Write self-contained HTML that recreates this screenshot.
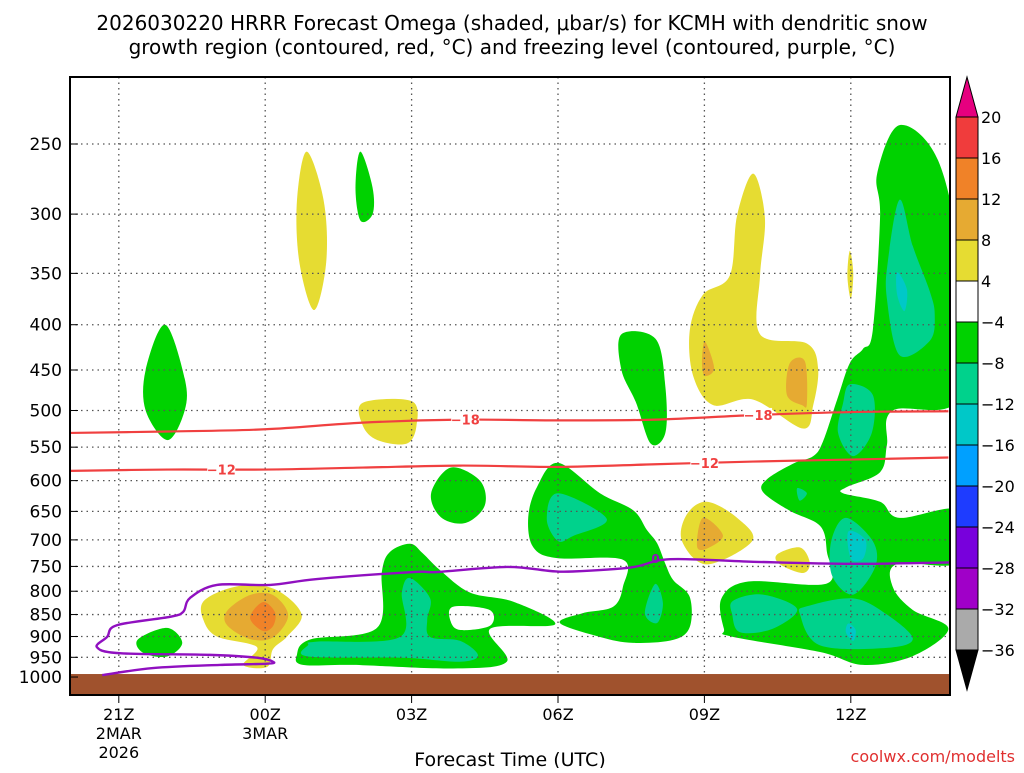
<!DOCTYPE html>
<html><head><meta charset="utf-8"><style>
body{margin:0;background:#fff;}
svg text{font-family:"DejaVu Sans","Liberation Sans",sans-serif;}
</style></head><body>
<svg id="chart" width="1024" height="768" viewBox="0 0 1024 768" xmlns="http://www.w3.org/2000/svg">
<text x="512" y="30" text-anchor="middle" font-size="20" fill="#000">2026030220 HRRR Forecast Omega (shaded, μbar/s) for KCMH with dendritic snow</text>
<text x="512" y="54" text-anchor="middle" font-size="20" fill="#000">growth region (contoured, red, °C) and freezing level (contoured, purple, °C)</text>
<g id="plot"></g>
<g id="cbar"></g>
<text x="510" y="766" text-anchor="middle" font-size="19" fill="#000">Forecast Time (UTC)</text>
<text x="1015" y="762" text-anchor="end" font-size="16" fill="#e03030">coolwx.com/modelts</text>
</svg>
<script>
const pTicks=[250,300,350,400,450,500,550,600,650,700,750,800,850,900,950,1000];
const tTickHours=[1,4,7,10,13,16];
const tTickLabels=[["21Z","2MAR","2026"],["00Z","3MAR"],["03Z"],["06Z"],["09Z"],["12Z"]];
const cbLevels=[20,16,12,8,4,-4,-8,-12,-16,-20,-24,-28,-32,-36];
const cbColors=["#f03c3c","#f08228","#e6aa32","#e6dc32","#ffffff","#00d200","#00d28c","#00c8c8","#00a0ff","#1e3cff","#7800dc","#a000c8","#aaaaaa"];
const GREEN="#00d200",TEAL="#00d28c",CYAN="#00c8c8",BLUE="#00a0ff",YEL="#e6dc32",ORG="#e6aa32",ORG2="#f08228",WHITE="#ffffff";
// shaded omega regions: color per region, outline as [hour,pressure] pairs
const blobColors=[GREEN,YEL,GREEN,YEL,GREEN,
GREEN,WHITE,TEAL,
GREEN,TEAL,TEAL,GREEN,
YEL,ORG,ORG,YEL,ORG,YEL,YEL,
GREEN,TEAL,CYAN,TEAL,TEAL,CYAN,TEAL,TEAL,CYAN,TEAL,
YEL,ORG,ORG2,GREEN];
const blobShapes=[
[[1.95,400],[2.35,460],[2.35,500],[2.0,540],[1.55,500],[1.55,450]],
[[4.85,255],[5.2,290],[5.25,340],[5.0,385],[4.7,340],[4.65,290]],
[[5.95,255],[6.2,280],[6.2,300],[5.95,305],[5.85,280]],
[[6.0,490],[7.0,488],[7.1,520],[6.9,545],[6.3,540],[6.0,520]],
[[7.8,580],[8.4,600],[8.5,640],[8.1,670],[7.6,660],[7.4,620]],
[[4.65,944],[4.92,907],[6.29,880],[6.39,761],[6.56,722],[6.97,707],[7.23,725],[7.58,757],[8.2,803],[9.08,822],[9.94,872],[8.61,882],[8.95,961],[7.85,978],[5.8,969],[4.77,969]],
[[7.85,833],[8.6,840],[8.61,875],[8.0,885],[7.8,865]],
[[4.88,920],[5.06,912],[6.76,901],[6.8,803],[6.97,773],[7.38,815],[7.32,861],[7.38,901],[7.99,910],[8.36,945],[7.99,961],[6.82,951],[4.88,948]],
[[10.0,573],[10.86,620],[11.54,648],[11.82,682],[12.03,706],[12.2,745],[12.36,777],[12.7,812],[12.7,878],[12.36,908],[11.54,915],[10.86,901],[10.04,869],[10.51,847],[11.13,833],[11.33,791],[11.33,737],[9.98,734],[9.49,713],[9.39,660],[9.57,610]],
[[10.0,620],[11.0,663],[10.31,693],[10.0,702],[9.77,663]],
[[11.99,785],[12.15,825],[12.03,869],[11.78,847]],
[[11.3,410],[12.0,415],[12.2,470],[12.2,530],[11.9,545],[11.6,490],[11.3,450]],
[[14.0,270],[14.24,303],[14.14,352],[14.14,410],[15.1,420],[15.33,448],[15.23,493],[15.02,524],[14.0,486],[13.18,493],[12.77,457],[12.7,406],[12.97,370],[13.52,352],[13.67,301]],
[[13.01,418],[13.2,448],[13.01,457],[12.95,442]],
[[14.75,442],[15.06,440],[15.1,491],[15.0,493],[14.69,480]],
[[12.64,655],[13.05,634],[13.67,661],[13.98,702],[13.05,746],[12.54,702]],
[[12.97,661],[13.38,692],[13.05,716],[12.85,712]],
[[14.49,727],[14.96,714],[15.16,743],[15.02,763],[14.55,746]],
[[15.98,330],[16.05,350],[16.0,374],[15.93,352]],
[[17.0,238],[17.79,261],[18.24,343],[18.24,483],[16.86,500],[16.74,547],[16.6,587],[15.92,610],[15.84,620],[16.6,634],[17.0,661],[18.24,648],[18.24,742],[16.95,745],[16.86,791],[17.27,840],[18.0,882],[17.27,947],[16.25,969],[15.37,937],[13.55,900],[13.4,882],[13.35,815],[13.9,780],[15.51,784],[15.51,722],[15.37,675],[14.75,649],[14.2,618],[14.28,598],[14.82,574],[15.23,563],[15.43,542],[15.72,486],[15.98,442],[16.25,426],[16.45,406],[16.6,302],[16.54,270]],
[[17.0,289],[17.27,326],[17.62,367],[17.72,390],[17.62,417],[17.0,433],[16.74,374],[16.76,339]],
[[16.95,349],[17.15,365],[17.1,386],[16.95,370]],
[[15.98,467],[16.45,480],[16.43,530],[16.05,563],[15.74,530],[15.84,491]],
[[15.9,661],[16.45,702],[16.5,751],[16.05,807],[15.62,769],[15.6,702]],
[[15.95,685],[16.3,700],[16.25,735],[16.0,735]],
[[15.1,832],[16.05,815],[16.74,850],[17.27,905],[16.74,927],[15.37,921],[14.96,850]],
[[13.59,820],[14.2,807],[14.9,838],[14.4,882],[13.73,890],[13.57,850]],
[[15.95,870],[16.1,885],[16.05,910],[15.9,890]],
[[14.9,612],[15.1,620],[14.95,632]],
[[2.73,822],[3.22,795],[3.83,787],[4.36,805],[4.75,852],[4.45,900],[4.16,930],[4.04,974],[3.55,969],[3.83,925],[3.01,900],[2.73,861]],
[[3.22,842],[3.69,808],[4.16,808],[4.47,852],[4.16,902],[3.69,906],[3.22,874]],
[[3.69,857],[3.95,823],[4.2,845],[4.16,876],[3.95,887]],
[[1.39,907],[1.99,880],[2.3,915],[1.99,948],[1.5,939]]
];
const lineHours=[0,2,4,6,8,10,12,14,16,18];
const iso18=[530,528,525,516,512,513,512,506,502,501];
const iso12=[585,583,583,580,577,579,575,571,568,565];
const freezeLine=[[18.2,742],[16,745],[14,741],[12.3,736],[11.5,752],[10.3,760],[9.84,759],[8.95,751],[7.52,761],[7.03,761],[5.06,775],[4.1,787],[3.01,787],[2.46,814],[2.32,844],[2.05,855],[0.96,874],[0.76,901],[0.55,925],[1.02,940],[2.87,944],[3.83,951],[4.16,961],[4.04,966],[3.07,969],[1.7,977],[0.66,995]];

const X0=70,X1=950,Y0=77,Y1=695;
const xs=h=>X0+h*48.8;
const ys=p=>144+384.5*Math.log(p/250);
const NS="http://www.w3.org/2000/svg";
const plot=document.getElementById('plot'),cbar=document.getElementById('cbar');
function mk(t,a,par){const e=document.createElementNS(NS,t);for(const k in a)e.setAttribute(k,a[k]);par.appendChild(e);return e;}
function smooth(pts){const P=pts.map(q=>[xs(q[0]),ys(q[1])]);const n=P.length;let d=`M${P[0][0]},${P[0][1]}`;
for(let i=0;i<n;i++){const p0=P[(i-1+n)%n],p1=P[i],p2=P[(i+1)%n],p3=P[(i+2)%n];
d+=`C${p1[0]+(p2[0]-p0[0])/6},${p1[1]+(p2[1]-p0[1])/6} ${p2[0]-(p3[0]-p1[0])/6},${p2[1]-(p3[1]-p1[1])/6} ${p2[0]},${p2[1]}`;}return d+'Z';}
const cp=mk('clipPath',{id:'clip'},mk('defs',{},plot));mk('rect',{x:X0,y:Y0,width:X1-X0,height:Y1-Y0},cp);
const g=mk('g',{'clip-path':'url(#clip)'},plot);
blobShapes.forEach((s,i)=>{const e=mk('path',{d:smooth(s),fill:blobColors[i]},g);

});
pTicks.forEach(p=>{const y=ys(p);const l=mk('line',{x1:X0,x2:X1,y1:y,y2:y,stroke:'#555','stroke-width':1.3,'stroke-dasharray':'1.5,4'},g);


const t=mk('text',{x:62,y:y+6,'text-anchor':'end','font-size':17,fill:'#000'},plot);t.textContent=p;


mk('line',{x1:X0,x2:X0+8,y1:y,y2:y,stroke:'#000'},plot);});
tTickHours.forEach((h,i)=>{const x=xs(h);const l=mk('line',{x1:x,x2:x,y1:Y0,y2:Y1,stroke:'#555','stroke-width':1.3,'stroke-dasharray':'1.5,4'},g);


mk('line',{x1:x,x2:x,y1:Y1,y2:Y1+8,stroke:'#000'},plot);
tTickLabels[i].forEach((s,j)=>{const t=mk('text',{x:x,y:Y1+25+j*19,'text-anchor':'middle','font-size':16,fill:'#000'},plot);t.textContent=s;

});});
const gr=mk('rect',{x:X0,y:ys(1000)-3,width:X1-X0,height:Y1-ys(1000)+3,fill:'#a0522d'},g);


function smoothOpen(arr){const P=arr.map(q=>[xs(q[0]),ys(q[1])]);let d=`M${P[0][0]},${P[0][1]}`;const n=P.length;
for(let i=0;i<n-1;i++){const p0=P[Math.max(i-1,0)],p1=P[i],p2=P[i+1],p3=P[Math.min(i+2,n-1)];
d+=`C${p1[0]+(p2[0]-p0[0])/6},${p1[1]+(p2[1]-p0[1])/6} ${p2[0]-(p3[0]-p1[0])/6},${p2[1]-(p3[1]-p1[1])/6} ${p2[0]},${p2[1]}`;}return d;}
function iso(vals,color,name,labels,lab){const e=mk('path',{d:smoothOpen(lineHours.map((h,i)=>[h,vals[i]])),fill:'none',stroke:color,'stroke-width':2.2},g);


labels.forEach(h=>{let k=0;while(k<lineHours.length-2&&lineHours[k+1]<h)k++;const f=(h-lineHours[k])/(lineHours[k+1]-lineHours[k]);const p=vals[k]+(vals[k+1]-vals[k])*f;
mk('rect',{x:xs(h)-14,y:ys(p)-7,width:28,height:14,fill:'#fff'},g);
const t=mk('text',{x:xs(h),y:ys(p)+5,'text-anchor':'middle','font-size':13,'font-weight':'bold',fill:color},g);t.textContent=lab;

});}
iso(iso18,'#f04040','isotherm-minus18',[8.1,14.1],'−18');
iso(iso12,'#f04040','isotherm-minus12',[3.1,13.0],'−12');
const fz=mk('path',{d:smoothOpen(freezeLine),fill:'none',stroke:'#9010c0','stroke-width':2.4},g);


const fl=mk('text',{x:xs(12.0),y:ys(736)+4,'text-anchor':'middle','font-size':12,'font-weight':'bold',fill:'#9010c0'},g);fl.textContent='0';


mk('rect',{x:X0,y:Y0,width:X1-X0,height:Y1-Y0,fill:'none',stroke:'#000','stroke-width':2},plot);
const CX=956,CW=22,CT=117,CS=41;
mk('path',{d:`M${CX},${CT}L${CX+CW/2},77L${CX+CW},${CT}Z`,fill:'#e6007f',stroke:'#000'},cbar);
cbColors.forEach((c,i)=>{const r=mk('rect',{x:CX,y:CT+i*CS,width:CW,height:CS,fill:c,stroke:'#000'},cbar);

});
const cb=CT+cbColors.length*CS;
mk('path',{d:`M${CX},${cb}L${CX+CW/2},${cb+40}L${CX+CW},${cb}Z`,fill:'#000',stroke:'#000'},cbar);
cbLevels.forEach((v,i)=>{const t=mk('text',{x:981,y:CT+i*CS+6,'font-size':16,fill:'#000'},cbar);t.textContent=v<0?'−'+(-v):v;

});
</script>
</body></html>
